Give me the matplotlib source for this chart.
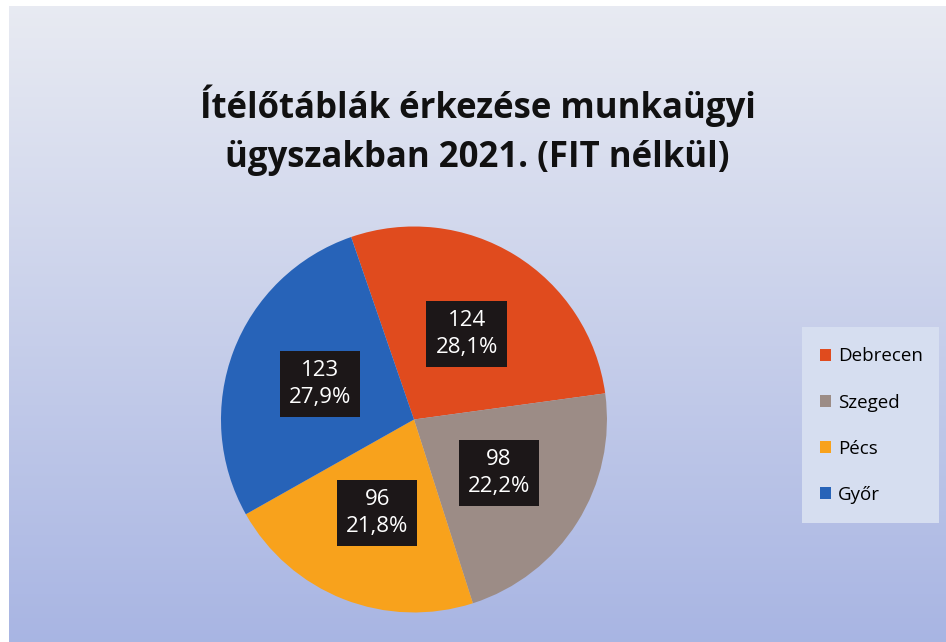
import numpy as np
import matplotlib
matplotlib.use('Agg')
import matplotlib.pyplot as plt
from matplotlib.patches import Patch

# adatok
labels = ['Debrecen', 'Szeged', 'Pécs', 'Győr']
values = [124, 98, 96, 123]
pct_text = ['28,1%', '22,2%', '21,8%', '27,9%']
colors = ['#E04B1E', '#9C8C86', '#F8A21C', '#2763B8']
title = 'Ítélőtáblák érkezése munkaügyi\nügyszakban 2021. (FIT nélkül)'

fig = plt.figure(figsize=(9.46, 6.42), dpi=100)
fig.patch.set_facecolor('white')

# hatter szinatmenet
bg = fig.add_axes([0.0095, 0.0, 0.9905, 0.99])
top = np.array([0.91, 0.92, 0.95])
bot = np.array([0.66, 0.71, 0.89])
t = np.linspace(0, 1, 256)[:, None, None]
grad = top * (1 - t) + bot * t
bg.imshow(np.repeat(grad, 2, axis=1), aspect='auto', extent=[0, 1, 0, 1])
bg.set_axis_off()

# legend doboz hattere
lg = fig.add_axes([0.848, 0.185, 0.145, 0.305])
lg.set_facecolor((0.84, 0.87, 0.94))
lg.set_xticks([])
lg.set_yticks([])
for s in lg.spines.values():
    s.set_visible(False)

# kordiagram
ax = fig.add_axes([0.2336, 0.0436, 0.408, 0.606])
wedges, _ = ax.pie(values, colors=colors, startangle=109, counterclock=False,
                   wedgeprops=dict(linewidth=0))
ax.set_xlim(-1, 1)
ax.set_ylim(-1, 1)
ax.set_aspect('equal')

for w, v, p in zip(wedges, values, pct_text):
    ang = np.deg2rad((w.theta1 + w.theta2) / 2)
    x, y = 0.52 * np.cos(ang), 0.52 * np.sin(ang)
    ax.text(x, y, f'{v}\n{p}', ha='center', va='center', color='white',
            fontsize=16, family='Open Sans', linespacing=1.35,
            bbox=dict(boxstyle='square,pad=0.4', fc='#1c1718', ec='none'))

fig.text(0.505, 0.797, title, ha='center', va='center', fontsize=25,
         fontweight='bold', family='Open Sans', linespacing=1.5, color='#111111')

handles = [Patch(facecolor=c, edgecolor='none') for c in colors]
fig.legend(handles, labels, loc='center', bbox_to_anchor=(0.921, 0.337),
           frameon=False, handlelength=0.6, handleheight=0.6,
           handletextpad=0.35, labelspacing=1.5, prop={'family': 'Open Sans', 'size': 13.5})

plt.savefig('out.png', dpi=100)
plt.close()
